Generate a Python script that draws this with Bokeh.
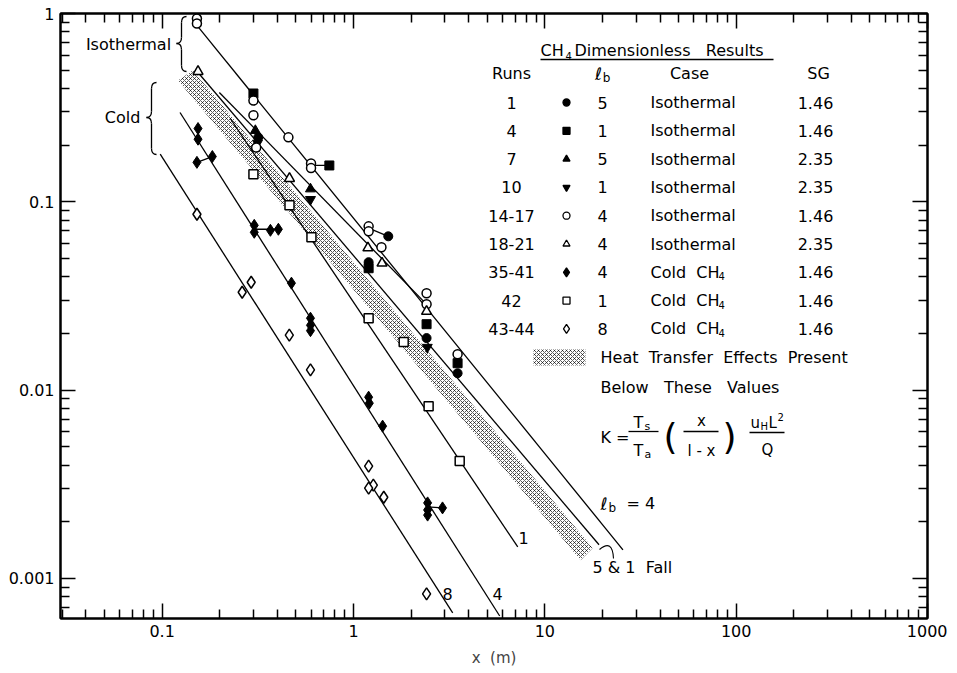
import numpy as np
from bokeh.plotting import figure
from bokeh.models import LogAxis, FixedTicker, CustomJSTickFormatter, Range1d, Label
from bokeh.core.properties import value
from bokeh.embed import file_html
from bokeh.resources import INLINE

FONT = "DejaVu Sans"
WEIGHT = "normal"
NB = "\u00a0"

# ---------------- axis ticks ----------------
x_major = [0.1, 1, 10, 100, 1000]
y_major = [0.001, 0.01, 0.1, 1]
x_minor = [m * 10.0 ** e for e in range(-2, 3) for m in range(2, 10)]
y_minor = [m * 10.0 ** e for e in range(-4, 0) for m in range(2, 10)]

# ---------------- data ----------------
# Runs 1, l_b 5, isothermal, SG 1.46 (filled circles)
r1_x = [0.318, 1.20, 2.41, 3.50, 1.52]
r1_y = [0.22, 0.0478, 0.0189, 0.0123, 0.0656]
# Run 4, l_b 1 (filled squares)
r4_x = [0.30, 0.748, 1.20, 2.41, 3.50]
r4_y = [0.376, 0.156, 0.0444, 0.0224, 0.0139]
# Run 7, l_b 5 (filled triangles)
r7_x = [0.307, 0.596]
r7_y = [0.239, 0.117]
# Run 10, l_b 1 (filled inverted triangles)
r10_x = [0.315, 0.596, 2.43]
r10_y = [0.205, 0.103, 0.0169]
# Runs 14-17, l_b 4 (open circles)
r14_x = [0.152, 0.152, 0.30, 0.30, 0.457, 0.60, 0.60, 1.20, 1.20, 1.40, 2.41, 2.41, 3.50, 0.31]
r14_y = [0.94, 0.885, 0.345, 0.288, 0.22, 0.16, 0.151, 0.0741, 0.0697, 0.0574, 0.0327, 0.0286, 0.0155, 0.194]
# Runs 18-21, l_b 4 (open triangles)
r18_x = [0.154, 0.463, 1.19, 1.41, 2.41]
r18_y = [0.492, 0.133, 0.0569, 0.0472, 0.0262]
# Runs 35-41, l_b 4, cold (filled diamonds)
r35_x = [0.154, 0.154, 0.152, 0.183, 0.303, 0.303, 0.368, 0.405, 0.474, 0.596, 0.596, 0.596,
         1.20, 1.21, 1.42, 2.44, 2.44, 2.44, 2.92]
r35_y = [0.245, 0.215, 0.162, 0.174, 0.075, 0.0689, 0.0706, 0.0715, 0.037, 0.0241, 0.0221, 0.0207,
         0.00918, 0.00853, 0.00644, 0.00252, 0.00231, 0.00217, 0.00237]
# Run 42, l_b 1, cold (open squares)
r42_x = [0.30, 0.463, 0.603, 1.20, 1.83, 2.47, 3.59]
r42_y = [0.140, 0.0958, 0.0648, 0.0241, 0.018, 0.00822, 0.0042]
# Runs 43-44, l_b 8, cold (open diamonds)
r43_x = [0.152, 0.292, 0.262, 0.462, 0.596, 1.20, 1.27, 1.20, 1.44, 2.41]
r43_y = [0.0859, 0.0374, 0.0331, 0.0196, 0.0128, 0.00395, 0.00313, 0.00302, 0.0027, 0.000828]

# fitted lines (start / end)
line_names = ["cold_8", "cold_4", "cold_1", "iso_4", "iso_5_1", "iso_c"]
line_x0 = [0.0977, 0.124, 0.227, 0.152, 0.154, 0.199]
line_y0 = [0.179, 0.298, 0.277, 0.864, 0.486, 0.381]
line_x1 = [3.30, 5.81, 7.22, 25.6, 19.2, 2.44]
line_y1 = [0.000656, 0.000632, 0.00147, 0.00142, 0.00151, 0.0282]

# heat-transfer band corners
band_x = [0.121, 0.145, 17.8, 15.4]
band_y = [0.441, 0.499, 0.00145, 0.00125]

# connectors between related points
conn_x0 = [0.152, 0.303, 2.44, 0.60, 1.20]
conn_y0 = [0.162, 0.0715, 0.0024, 0.156, 0.0725]
conn_x1 = [0.183, 0.405, 2.92, 0.748, 1.52]
conn_y1 = [0.174, 0.0715, 0.00237, 0.156, 0.0656]

# legend table
runs = ["1", "4", "7", "10", "14-17", "18-21", "35-41", "42", "43-44"]
lb = ["5", "1", "5", "1", "4", "4", "4", "1", "8"]
case = ["Isothermal"] * 6 + ["Cold" + NB + NB + "CH"] * 3
sg = ["1.46", "1.46", "2.35", "2.35", "1.46", "2.35", "1.46", "1.46", "1.46"]

# ---------------- geometry ----------------
X0, X1 = 0.02943, 1000.0
Y0, Y1 = 0.000613, 1.0
FL, FR, FT, FB = 60, 927, 13, 618  # frame edges in page pixels
LX0, LX1, LY0, LY1 = np.log10(X0), np.log10(X1), np.log10(Y0), np.log10(Y1)


def PX(px):
    return 10 ** (LX0 + (px - FL) / (FR - FL) * (LX1 - LX0))


def PY(py):
    return 10 ** (LY1 - (py - FT) / (FB - FT) * (LY1 - LY0))


p = figure(x_axis_type="log", y_axis_type="log",
           x_range=Range1d(X0, X1), y_range=Range1d(Y0, Y1),
           frame_width=FR - FL, frame_height=FB - FT,
           min_border_left=FL, min_border_top=FT, min_border_right=20, min_border_bottom=50,
           output_backend="svg", toolbar_location=None)
p.background_fill_color = "white"
p.border_fill_color = "white"
p.outline_line_color = "black"
p.outline_line_width = 2
p.xgrid.visible = False
p.ygrid.visible = False

fmt = CustomJSTickFormatter(code="return tick >= 1 ? tick.toFixed(0) : String(tick);")
blank = CustomJSTickFormatter(code="return '';")


def style_axis(ax, labels=True):
    ax.axis_line_width = 2
    ax.axis_line_color = "black"
    ax.major_tick_in = 15
    ax.major_tick_out = 0
    ax.minor_tick_in = 9
    ax.minor_tick_out = 0
    ax.major_tick_line_width = 1.5
    ax.minor_tick_line_width = 1.5
    ax.major_label_text_font = FONT
    ax.major_label_text_font_style = WEIGHT
    ax.major_label_text_font_size = "16px" if labels else "1px"
    ax.major_label_standoff = 6 if labels else 0
    ax.major_label_text_color = "black"
    ax.formatter = fmt if labels else blank


xt = FixedTicker(ticks=x_major, minor_ticks=x_minor)
yt = FixedTicker(ticks=y_major, minor_ticks=y_minor)
p.xaxis.ticker = xt
p.yaxis.ticker = yt
style_axis(p.xaxis[0])
style_axis(p.yaxis[0])
p.xaxis.axis_label = "x" + NB + NB + "(m)"
p.xaxis.axis_label_text_font = FONT
p.xaxis.axis_label_text_font_style = WEIGHT
p.xaxis.axis_label_text_font_size = "15px"
p.xaxis.axis_label_standoff = 9

top = LogAxis(ticker=FixedTicker(ticks=x_major, minor_ticks=x_minor))
right = LogAxis(ticker=FixedTicker(ticks=y_major, minor_ticks=y_minor))
style_axis(top, False)
style_axis(right, False)
p.add_layout(top, "above")
p.add_layout(right, "right")

p.add_layout(Label(x=PX(20), y=PY(292), text="K", text_font=FONT, text_font_style=WEIGHT,
                   text_font_size="16px", text_align="center", text_baseline="middle"))

# ---------------- band ----------------
p.patch(band_x, band_y, fill_color="white", line_color=None,
        hatch_pattern="diagonal_cross", hatch_scale=4, hatch_weight=1, hatch_color="black", hatch_alpha=0.65)

# ---------------- lines ----------------
p.segment(line_x0, line_y0, line_x1, line_y1, line_color="black", line_width=1.3)
p.segment(conn_x0, conn_y0, conn_x1, conn_y1, line_color="black", line_width=1.3)

# ---------------- markers ----------------
S = 9
p.scatter(r1_x, r1_y, marker="circle", size=S, fill_color="black", line_color="black")
p.scatter(r4_x, r4_y, marker="square", size=S, fill_color="black", line_color="black")
p.scatter(r7_x, r7_y, marker="triangle", size=S + 1, fill_color="black", line_color="black")
p.scatter(r10_x, r10_y, marker="inverted_triangle", size=S + 1, fill_color="black", line_color="black")
p.scatter(r14_x, r14_y, marker="circle", size=S, fill_color="white", line_color="black", line_width=1.5)
p.scatter(r18_x, r18_y, marker="triangle", size=S + 1, fill_color="white", line_color="black", line_width=1.5)
p.scatter(r35_x, r35_y, marker="diamond", size=S + 3, fill_color="black", line_color="black")
p.scatter(r42_x, r42_y, marker="square", size=S, fill_color="white", line_color="black", line_width=1.5)
p.scatter(r43_x, r43_y, marker="diamond", size=S + 3, fill_color="white", line_color="black", line_width=1.5)

# ---------------- braces ----------------


def brace(xc, yt, ym, yb, w=5, r=6):
    xl, xr = xc - w, xc + w
    q = [((xr, yt), (xc, yt + r), (xc, yt)),
         ((xc, ym - r), (xl, ym), (xc, ym)),
         ((xl, ym), (xc, ym + r), (xc, ym)),
         ((xc, yb - r), (xr, yb), (xc, yb))]
    p.quadratic(x0=[PX(a[0][0]) for a in q], y0=[PY(a[0][1]) for a in q],
                x1=[PX(a[1][0]) for a in q], y1=[PY(a[1][1]) for a in q],
                cx=[PX(a[2][0]) for a in q], cy=[PY(a[2][1]) for a in q],
                line_color="black", line_width=1.3)
    p.segment(x0=[PX(xc), PX(xc)], y0=[PY(yt + r), PY(ym + r)],
              x1=[PX(xc), PX(xc)], y1=[PY(ym - r), PY(yb - r)], line_color="black", line_width=1.3)


brace(181, 16, 43, 71)
brace(151, 82, 117, 154)

# small bracket at "5 & 1 Fall"
p.quadratic(x0=[PX(599)], y0=[PY(549)], x1=[PX(613)], y1=[PY(558)], cx=[PX(612)], cy=[PY(538)],
            line_color="black", line_width=1.1)

# ---------------- texts ----------------


def txt(px, py, s, size=16, align="left", style=WEIGHT, baseline="middle"):
    p.text(x=[PX(px)], y=[PY(py)], text=[s], text_font=value(FONT), text_font_size=f"{size}px",
           text_font_style=style, text_align=align, text_baseline=baseline, text_color="black")


txt(128, 44, "Isothermal", 16, "center")
txt(122, 117, "Cold", 16, "center")

# table title
txt(540, 50, "CH", 16)
txt(565, 55, "4", 10)
txt(574, 50, "Dimensionless" + NB * 3 + "Results", 16)
p.segment(x0=[PX(540)], y0=[PY(59)], x1=[PX(773)], y1=[PY(59)], line_color="black", line_width=1.5)

# headers
ROW0, DROW = 102, 28.3
HY = 73
txt(511, HY, "Runs", 16, "center")
txt(598, HY, "ℓ", 17, "center")
txt(606, HY + 4, "b", 12, "center")
txt(689, HY, "Case", 16, "center")
txt(818, HY, "SG", 16, "center")

tbl_markers = [("circle", "black"), ("square", "black"), ("triangle", "black"),
               ("inverted_triangle", "black"), ("circle", "white"), ("triangle", "white"),
               ("diamond", "black"), ("square", "white"), ("diamond", "white")]
for i in range(len(runs)):
    ry = ROW0 + DROW * i
    txt(511, ry, runs[i], 16, "center")
    mk, fc = tbl_markers[i]
    sz = 7 if mk in ("circle", "square", "triangle", "inverted_triangle") else 9
    p.scatter([PX(566)], [PY(ry)], marker=mk, size=sz, fill_color=fc, line_color="black", line_width=1.3)
    txt(602, ry, lb[i], 16, "center")
    txt(650, ry, case[i], 16)
    if case[i].startswith("Cold"):
        txt(718, ry + 4, "4", 10)
    txt(815, ry, sg[i], 16, "center")

# band swatch
p.quad(left=[PX(533)], right=[PX(585)], top=[PY(349)], bottom=[PY(365)], fill_color="white",
       line_color=None, hatch_pattern="diagonal_cross", hatch_scale=4, hatch_weight=1,
       hatch_color="black", hatch_alpha=0.65)
txt(600, 357, NB.join(["Heat", "", "Transfer", "", "Effects", "", "Present"]), 16)
txt(600, 387, NB.join(["Below", "", "", "These", "", "", "Values"]), 16)

# formula
txt(600, 437, "K =", 16)
txt(633, 422, "T", 16)
txt(644, 426, "s", 11)
p.segment(x0=[PX(628)], y0=[PY(431)], x1=[PX(658)], y1=[PY(431)], line_color="black", line_width=1.3)
txt(633, 450, "T", 16)
txt(644, 454, "a", 11)
txt(670, 436, "(", 36, "center")
txt(701, 420, "x", 15, "center")
p.segment(x0=[PX(683)], y0=[PY(431)], x1=[PX(718)], y1=[PY(431)], line_color="black", line_width=1.3)
txt(701, 450, "l - x", 15, "center")
txt(729, 436, ")", 36, "center")
txt(750, 422, "u", 15)
txt(760, 426, "H", 10)
txt(768, 422, "L", 15)
txt(777, 416, "2", 10)
p.segment(x0=[PX(749)], y0=[PY(432)], x1=[PX(784)], y1=[PY(432)], line_color="black", line_width=1.3)
txt(767, 449, "Q", 15, "center")

# line labels
txt(600, 503, "ℓ", 17)
txt(608, 507, "b", 12)
txt(626, 503, "= 4", 16)
txt(592, 567, "5 & 1" + NB + NB + "Fall", 16)
txt(523, 537, "1", 16, "center")
txt(497, 593, "4", 16, "center")
txt(447, 593, "8", 16, "center")

open("out.html", "w").write(file_html(p, INLINE))
